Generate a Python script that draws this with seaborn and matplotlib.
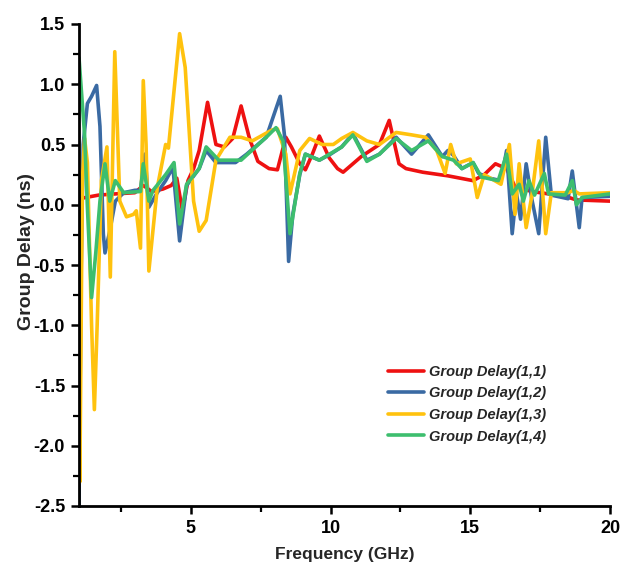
import matplotlib
matplotlib.use("Agg")
import matplotlib.pyplot as plt
from matplotlib.ticker import MultipleLocator
import seaborn as sns
import pandas as pd

# ---- data ----
series_names = ["Group Delay(1,1)", "Group Delay(1,2)", "Group Delay(1,3)", "Group Delay(1,4)"]
series_colors = ["#EE1111", "#3A6AA3", "#FFC20E", "#3DBE6E"]

freq_11 = [1.0, 1.7, 2.3, 3.0, 3.3, 3.6, 4.0, 4.3, 4.5, 4.7, 4.9, 5.1, 5.3, 5.6, 5.9, 6.2, 6.5, 6.8, 7.1, 7.4,
           7.8, 8.1, 8.4, 8.6, 8.9, 9.1, 9.35, 9.6, 9.95, 10.25, 10.45, 11.1, 11.75, 12.1, 12.45, 12.7, 13.3,
           14.2, 15.1, 15.5, 15.9, 16.3, 16.6, 17.2, 18.4, 18.8, 20.0]
gd_11 = [0.05, 0.08, 0.09, 0.1, 0.16, 0.11, 0.13, 0.16, 0.22, -0.05, 0.2, 0.3, 0.45, 0.85, 0.5, 0.48, 0.55, 0.82,
         0.55, 0.36, 0.3, 0.29, 0.56, 0.48, 0.34, 0.29, 0.42, 0.57, 0.39, 0.3, 0.27, 0.4, 0.5, 0.7, 0.34, 0.3,
         0.27, 0.24, 0.2, 0.25, 0.34, 0.3, 0.15, 0.11, 0.07, 0.04, 0.03]

freq_12 = [1.0, 1.08, 1.15, 1.3, 1.45, 1.63, 1.75, 1.87, 1.93, 2.1, 2.3, 2.6, 3.0, 3.2, 3.36, 3.5, 3.8, 4.1, 4.36,
           4.6, 4.85, 5.3, 5.55, 5.9, 6.6, 7.0, 7.7, 8.2, 8.35, 8.5, 8.65, 8.9, 9.1, 9.6, 10.0, 10.4, 10.8, 11.3,
           11.75, 12.35, 12.9, 13.5, 14.0, 14.2, 14.4, 14.7, 15.1, 15.3, 15.7, 16.1, 16.3, 16.5, 16.65, 16.8,
           17.0, 17.2, 17.45, 17.7, 17.9, 18.5, 18.65, 18.9, 19.0, 20.0]
gd_12 = [-2.5, -0.5, 0.5, 0.84, 0.9, 0.99, 0.65, -0.24, -0.4, -0.22, 0.03, 0.1, 0.12, 0.12, 0.42, -0.02, 0.1,
         0.2, 0.31, -0.3, 0.16, 0.3, 0.45, 0.35, 0.35, 0.42, 0.56, 0.9, 0.58, -0.47, -0.08, 0.25, 0.42, 0.37,
         0.42, 0.48, 0.59, 0.37, 0.42, 0.56, 0.42, 0.58, 0.4, 0.45, 0.41, 0.3, 0.35, 0.26, 0.22, 0.2, 0.45,
         -0.24, 0.1, -0.12, 0.34, 0.05, -0.24, 0.56, 0.08, 0.05, 0.28, -0.19, 0.06, 0.07]

freq_13 = [1.0, 1.03, 1.12, 1.2, 1.3, 1.45, 1.55, 1.65, 1.8, 2.0, 2.12, 2.28, 2.46, 2.7, 2.95, 3.05, 3.2, 3.3,
           3.4, 3.5, 3.8, 4.1, 4.2, 4.6, 4.8, 5.1, 5.3, 5.55, 5.9, 6.4, 6.8, 7.2, 7.9, 8.1, 8.4, 8.55, 8.9, 9.25,
           9.7, 10.1, 10.4, 10.8, 11.3, 11.75, 12.35, 12.9, 13.4, 13.8, 14.1, 14.3, 14.5, 15.0, 15.25, 15.5,
           16.1, 16.4, 16.6, 16.75, 17.0, 17.2, 17.45, 17.7, 17.9, 18.5, 18.7, 18.9, 20.0]
gd_13 = [-1.9, -2.3, 0.2, 0.55, 0.35, -1.0, -1.7, -1.0, 0.2, 0.48, -0.6, 1.27, 0.03, -0.1, -0.08, -0.05, -0.36,
         1.03, 0.5, -0.55, 0.14, 0.5, 0.47, 1.42, 1.14, 0.03, -0.22, -0.13, 0.37, 0.56, 0.56, 0.53, 0.62, 0.63,
         0.42, 0.09, 0.45, 0.55, 0.5, 0.5, 0.55, 0.6, 0.53, 0.5, 0.6, 0.58, 0.56, 0.45, 0.26, 0.5, 0.34, 0.38,
         0.06, 0.25, 0.17, 0.5, -0.08, 0.34, -0.19, 0.07, 0.53, -0.24, 0.1, 0.1, 0.12, 0.09, 0.1]

freq_14 = [1.0, 1.2, 1.3, 1.45, 1.6, 1.75, 1.93, 2.1, 2.3, 2.6, 3.2, 3.3, 3.5, 3.65, 4.1, 4.4, 4.6, 4.85, 5.3,
           5.55, 6.0, 6.8, 7.7, 8.05, 8.3, 8.55, 8.9, 9.1, 9.6, 10.4, 10.8, 11.3, 11.75, 12.35, 12.9, 13.5, 14.0,
           14.4, 14.7, 15.1, 15.4, 16.0, 16.3, 16.5, 16.75, 16.9, 17.1, 17.3, 17.65, 17.8, 18.4, 18.65, 18.8,
           19.0, 20.0]
gd_14 = [1.22, 0.58, -0.02, -0.77, -0.4, 0.03, 0.34, 0.03, 0.2, 0.1, 0.11, 0.34, 0.03, 0.12, 0.25, 0.35, -0.16,
         0.17, 0.3, 0.48, 0.37, 0.37, 0.56, 0.64, 0.53, -0.24, 0.26, 0.42, 0.37, 0.48, 0.58, 0.36, 0.42, 0.55,
         0.45, 0.53, 0.4, 0.37, 0.3, 0.35, 0.23, 0.2, 0.42, 0.09, 0.17, 0.03, 0.2, 0.08, 0.26, 0.09, 0.08, 0.2,
         0.0, 0.06, 0.09]

x_ticks = [5, 10, 15, 20]
y_ticks = [-2.5, -2.0, -1.5, -1.0, -0.5, 0.0, 0.5, 1.0, 1.5]

# ---- build long-form table ----
frames = []
for name, f, g in zip(series_names, [freq_11, freq_12, freq_13, freq_14], [gd_11, gd_12, gd_13, gd_14]):
    assert len(f) == len(g), name
    frames.append(pd.DataFrame({"Frequency": f, "Delay": g, "Series": name}))
df = pd.concat(frames, ignore_index=True)

sns.set_style("ticks")
plt.rcParams["font.family"] = ["Liberation Sans", "DejaVu Sans"]

fig = plt.figure(figsize=(6.23, 5.62), dpi=100)
ax = fig.add_axes([79 / 623, 56 / 562, 531 / 623, 482 / 562])

sns.lineplot(data=df, x="Frequency", y="Delay", hue="Series", hue_order=series_names,
             palette=dict(zip(series_names, series_colors)), estimator=None, sort=False,
             linewidth=2.6, ax=ax)

ax.set_xlim(1, 20)
ax.set_ylim(-2.5, 1.5)
ax.set_xticks(x_ticks)
ax.set_yticks(y_ticks)
ax.set_yticklabels([f"{v:.1f}" for v in y_ticks])
ax.xaxis.set_minor_locator(MultipleLocator(2.5))
ax.yaxis.set_minor_locator(MultipleLocator(0.25))

for s in ["top", "right"]:
    ax.spines[s].set_visible(False)
for s in ["left", "bottom"]:
    ax.spines[s].set_linewidth(2.0)
    ax.spines[s].set_color("black")

ax.tick_params(axis="both", which="major", direction="out", length=6, width=1.8,
               labelsize=13, colors="black", pad=4)
ax.tick_params(axis="both", which="minor", direction="out", length=4, width=1.6, colors="black")
for lab in ax.get_xticklabels() + ax.get_yticklabels():
    lab.set_fontweight("bold")

ax.set_xlabel("Frequency (GHz)", fontsize=12.5, fontweight="bold", labelpad=7)
ax.set_ylabel("Group Delay (ns)", fontsize=14, fontweight="bold")
ax.yaxis.set_label_coords(-0.083, 0.529)

leg = ax.legend(loc="upper left", bbox_to_anchor=(0.571, 0.305), frameon=False,
                prop={"size": 10.5, "weight": "bold", "style": "italic"},
                handlelength=2.5, handletextpad=0.3, labelspacing=0.52, borderaxespad=0)
for line in leg.get_lines():
    line.set_linewidth(2.6)

fig.savefig("out.png", dpi=100, facecolor="white")
